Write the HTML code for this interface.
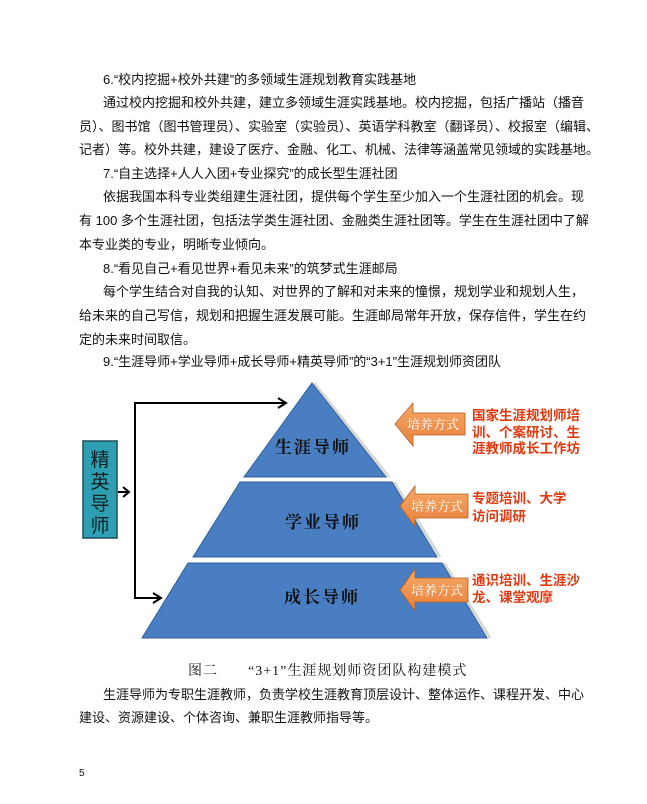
<!DOCTYPE html>
<html><head><meta charset="utf-8"><style>
body{margin:0;width:647px;height:804px;background:#fff;position:relative;overflow:hidden;font-family:"Liberation Sans","Noto Sans CJK SC",sans-serif;color:#111}
.l{position:absolute;font-size:13px;line-height:16px;white-space:nowrap;text-align:justify;text-align-last:justify}
.n{text-align-last:left}
</style></head><body>
<div class="l n" style="left:103px;top:72px">6.“校内挖掘+校外共建”的多领域生涯规划教育实践基地</div>
<div class="l" style="left:103px;top:95px;width:477px">通过校内挖掘和校外共建，建立多领域生涯实践基地。校内挖掘，包括广播站（播音</div>
<div class="l" style="left:79px;top:119px;width:501px">员）、图书馆（图书管理员）、实验室（实验员）、英语学科教室（翻译员）、校报室（编辑、</div>
<div class="l" style="left:79px;top:142px;width:501px">记者）等。校外共建，建设了医疗、金融、化工、机械、法律等涵盖常见领域的实践基地。</div>
<div class="l n" style="left:103px;top:166px">7.“自主选择+人人入团+专业探究”的成长型生涯社团</div>
<div class="l" style="left:103px;top:189px;width:477px">依据我国本科专业类组建生涯社团，提供每个学生至少加入一个生涯社团的机会。现</div>
<div class="l" style="left:79px;top:213px;width:501px">有 100 多个生涯社团，包括法学类生涯社团、金融类生涯社团等。学生在生涯社团中了解</div>
<div class="l n" style="left:79px;top:237px">本专业类的专业，明晰专业倾向。</div>
<div class="l n" style="left:103px;top:261px">8.“看见自己+看见世界+看见未来”的筑梦式生涯邮局</div>
<div class="l" style="left:103px;top:284px;width:477px">每个学生结合对自我的认知、对世界的了解和对未来的憧憬，规划学业和规划人生，</div>
<div class="l" style="left:79px;top:308px;width:501px">给未来的自己写信，规划和把握生涯发展可能。生涯邮局常年开放，保存信件，学生在约</div>
<div class="l n" style="left:79px;top:332px">定的未来时间取信。</div>
<div class="l n" style="left:103px;top:354px">9.“生涯导师+学业导师+成长导师+精英导师”的“3+1”生涯规划师资团队</div>

<svg style="position:absolute;left:0;top:0" width="647" height="804">
<defs><linearGradient id="g" x1="0" y1="0" x2="0" y2="1"><stop offset="0" stop-color="#f7a868"/><stop offset="1" stop-color="#e8803a"/></linearGradient></defs>
<g stroke="#d8d8d0" stroke-width="3" fill="none">
<line x1="314" y1="383" x2="389" y2="477"/><line x1="394" y1="482" x2="440" y2="557"/><line x1="444" y1="563" x2="490" y2="638"/>
</g>
<polygon points="312,383 386,477 244,477" fill="#4a7ec2" stroke="#2f5e9a"/>
<polygon points="240,482 392,482 437,557 193,557" fill="#4a7ec2" stroke="#2f5e9a"/>
<polygon points="188,563 442,563 487,638 142,638" fill="#4a7ec2" stroke="#2f5e9a"/>
<g font-family="Liberation Serif,Noto Serif CJK SC,serif" font-size="17" font-weight="bold" fill="#111" text-anchor="middle">
<text x="313" y="453" letter-spacing="2">生涯导师</text>
<text x="323" y="528" letter-spacing="2">学业导师</text>
<text x="322" y="603" letter-spacing="2">成长导师</text>
</g>
<rect x="83" y="441" width="34" height="97" fill="#2e9fb2" stroke="#1f4f5a" stroke-width="1.5"/>
<g font-family="Noto Sans CJK SC,sans-serif" font-size="19" fill="#102020" text-anchor="middle">
<text x="100" y="466">精</text><text x="100" y="488">英</text><text x="100" y="510">导</text><text x="100" y="532">师</text>
</g>
<g stroke="#000" stroke-width="2" fill="none">
<polyline points="285,403 135,403 135,598 159,598"/>
<line x1="118" y1="492" x2="128" y2="492"/>
<polyline points="278,398 286,403 278,408"/>
<polyline points="153,593 161,598 153,603"/>
<polyline points="123,487 129,492 123,497"/>
</g>
<g fill="url(#g)" stroke="#b06020" stroke-width="0.8">
<polygon points="395,424 413,403 413,413 465,413 465,435 413,435 413,446"/>
<polygon points="400,506 415,486 415,494 468,494 468,518 415,518 415,527"/>
<polygon points="400,590 415,569 415,578 468,578 468,602 415,602 415,611"/>
</g>
<g font-family="Noto Serif CJK SC,serif" font-size="13" fill="#fff" text-anchor="middle">
<text x="433" y="429">培养方式</text><text x="437" y="511">培养方式</text><text x="437" y="595">培养方式</text>
</g>
<g font-family="Noto Sans CJK SC,sans-serif" font-size="13.5" font-weight="bold" fill="#e03a10">
<text x="472" y="420">国家生涯规划师培</text><text x="472" y="437">训、个案研讨、生</text><text x="472" y="453">涯教师成长工作坊</text>
<text x="472" y="503">专题培训、大学</text><text x="472" y="521">访问调研</text>
<text x="472" y="585">通识培训、生涯沙</text><text x="472" y="602">龙、课堂观摩</text>
</g>
</svg>

<div class="l n" style="left:188px;top:664px;font-size:14px;font-family:'Liberation Serif','Noto Serif CJK SC',serif;letter-spacing:1px">图二　　“3+1”生涯规划师资团队构建模式</div>
<div class="l" style="left:103px;top:687px;width:477px">生涯导师为专职生涯教师，负责学校生涯教育顶层设计、整体运作、课程开发、中心</div>
<div class="l n" style="left:79px;top:710px">建设、资源建设、个体咨询、兼职生涯教师指导等。</div>
<div class="l n" style="left:79px;top:766px;font-size:10px">5</div>
</body></html>
